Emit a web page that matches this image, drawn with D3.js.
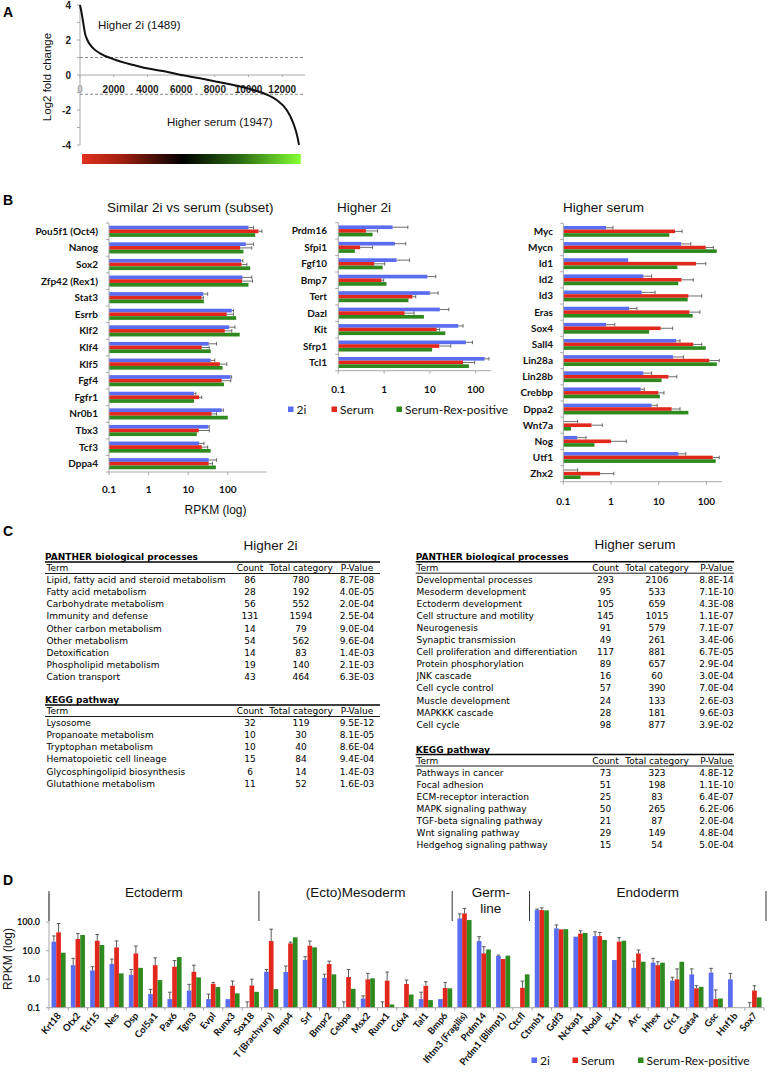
<!DOCTYPE html>
<html><head><meta charset="utf-8">
<script src="https://cdn.jsdelivr.net/npm/d3@7"></script>
<style>body{margin:0;background:#fff}svg{display:block}</style>
</head><body>
<svg id="c" width="768" height="1076"></svg>
<script>
// ---------------- DATA ----------------
// Panel A: sorted log2 fold change curve (rank, value)
const foldRank  = [0, 99, 198, 297, 435, 791, 1187, 1978, 3165, 3956, 5143, 6033, 7121, 8308, 9099, 10286, 11077, 11670, 12264, 12660, 12897, 12995];
const foldValue = [4.0, 3.52, 2.95, 2.38, 2.0, 1.52, 1.24, 0.91, 0.57, 0.38, 0.19, 0.0, -0.19, -0.42, -0.57, -0.86, -1.12, -1.43, -2.0, -2.76, -3.52, -4.0];
const foldThresholds = [1, -1.1];
const aYTicks = [4, 2, 0, -2, -4];
const aXTicks = [0, 2000, 4000, 6000, 8000, 10000, 12000];
const aLabels = ["Higher 2i (1489)", "Higher serum (1947)"];

// Panel B
const seriesNames = ["2i", "Serum", "Serum-Rex-positive"];
const simGenes = ["Pou5f1 (Oct4)","Nanog","Sox2","Zfp42 (Rex1)","Stat3","Esrrb","Klf2","Klf4","Klf5","Fgf4","Fgfr1","Nr0b1","Tbx3","Tcf3","Dppa4"];
const sim2i    = [333,286,215,235,24,126,108,33,37,117,14,70,32,19,33];
const simSerum = [598,205,222,230,21.8,94,84,22,63,70,19,39,18.5,22,33];
const simRex   = [492,248,368,333,24.9,163,200,37,74,80,14,100,16.5,37,50];
const sim2iErr    = [447,447,240,405,31,139,152,52,47,125,15.6,77,34,25,52];
const simSerumErr = [725,405,303,420,24,139,126,34,94,119,22,52,34,31,41];

const hi2iGenes = ["Prdm16","Sfpi1","Fgf10","Bmp7","Tert","Dazl","Kit","Sfrp1","Tcl1"];
const hi2i2i    = [1.53,1.72,1.87,8.8,10,16.5,41.6,61,157];
const hi2iSerum = [0.40,0.30,0.61,0.88,4.16,2.8,14,16,53];
const hi2iRex   = [0.56,0.23,0.93,1.13,3.4,7.4,21.7,11.2,71];
const hi2i2iErr    = [3.3,2.97,3.6,13.4,15.1,26,53,85,195];
const hi2iSerumErr = [0.72,0.56,1.03,0.98,4.9,4.5,16.3,28.5,95];

const hiSerGenes = ["Myc","Mycn","Id1","Id2","Id3","Eras","Sox4","Sall4","Lin28a","Lin28b","Crebbp","Dppa2","Wnt7a","Nog","Utf1","Zhx2"];
const hiSer2i    = [0.79,29.4,2.3,4.76,4.4,2.4,0.79,23,20,4.76,4.2,7.1,0.1,0.196,25.9,0.1];
const hiSerSerum = [22,97,60.7,30,41.9,44,11,53,115,16,9.8,18.7,0.39,1.0,136,0.59];
const hiSerRex   = [16.7,165,24.6,25.7,40.5,51.6,6.3,97,165,11.5,10.6,41.9,0.145,0.45,157,0.23];
const hiSer2iErr    = [1.1,47,2.3,7.1,8.4,3.5,1.2,28,33,7.1,5,9.3,0.2,0.3,37,0.2];
const hiSerSerumErr = [31,140,97,53,80,73,19.6,80,186,24,12.9,28,0.66,2.1,186,1.15];
const bTicks = [0.1, 1, 10, 100];

// Panel C tables: [term, count, total, p-value]
const tableHeader = ["Term", "Count", "Total category", "P-Value"];
const panther2i = [
 ["Lipid, fatty acid and steroid metabolism",86,780,"8.7E-08"],
 ["Fatty acid metabolism",28,192,"4.0E-05"],
 ["Carbohydrate metabolism",56,552,"2.0E-04"],
 ["Immunity and defense",131,1594,"2.5E-04"],
 ["Other carbon metabolism",14,79,"9.0E-04"],
 ["Other metabolism",54,562,"9.6E-04"],
 ["Detoxification",14,83,"1.4E-03"],
 ["Phospholipid metabolism",19,140,"2.1E-03"],
 ["Cation transport",43,464,"6.3E-03"]];
const kegg2i = [
 ["Lysosome",32,119,"9.5E-12"],
 ["Propanoate metabolism",10,30,"8.1E-05"],
 ["Tryptophan metabolism",10,40,"8.6E-04"],
 ["Hematopoietic cell lineage",15,84,"9.4E-04"],
 ["Glycosphingolipid biosynthesis",6,14,"1.4E-03"],
 ["Glutathione metabolism",11,52,"1.6E-03"]];
const pantherSerum = [
 ["Developmental processes",293,2106,"8.8E-14"],
 ["Mesoderm development",95,533,"7.1E-10"],
 ["Ectoderm development",105,659,"4.3E-08"],
 ["Cell structure and motility",145,1015,"1.1E-07"],
 ["Neurogenesis",91,579,"7.1E-07"],
 ["Synaptic transmission",49,261,"3.4E-06"],
 ["Cell proliferation and differentiation",117,881,"6.7E-05"],
 ["Protein phosphorylation",89,657,"2.9E-04"],
 ["JNK cascade",16,60,"3.0E-04"],
 ["Cell cycle control",57,390,"7.0E-04"],
 ["Muscle development",24,133,"2.6E-03"],
 ["MAPKKK cascade",28,181,"9.6E-03"],
 ["Cell cycle",98,877,"3.9E-02"]];
const keggSerum = [
 ["Pathways in cancer",73,323,"4.8E-12"],
 ["Focal adhesion",51,198,"1.1E-10"],
 ["ECM-receptor interaction",25,83,"6.4E-07"],
 ["MAPK signaling pathway",50,265,"6.2E-06"],
 ["TGF-beta signaling pathway",21,87,"2.0E-04"],
 ["Wnt signaling pathway",29,149,"4.8E-04"],
 ["Hedgehog signaling pathway",15,54,"5.0E-04"]];

// Panel D
const dGroups = ["Ectoderm","(Ecto)Mesoderm","Germ-|line","Endoderm"];
const dGroupSizes = [11,10,4,12];
const dGenes = ["Krt18","Otx2","Tcf15","Nes","Dsp","Col5a1","Pax6","Tgm3","Evpl","Runx3","Sox18",
 "T (Brachyury)","Bmp4","Srf","Bmpr2","Cebpa","Msx2","Runx1","Cdx4","Tal1","Bmp6",
 "Ifitm3 (Fragilis)","Prdm14","Prdm1 (Blimp1)","Ctcfl",
 "Ctnnb1","Gdf3","Nckap1","Nodal","Ext1","Arc","Hhex","Cfc1","Gata4","Gsc","Hnf1b","Sox7"];
const d2i    = [20.7,3.1,2.04,3.4,1.4,0.3,0.2,0.4,0.2,0.2,0.1, 1.83,1.79,4.7,1.1,0.1,0.21,0.1,0.1,0.2,0.2, 135,21.8,6.5,0.1, 267,60.8,31,32.6,4.7,2.5,3.8,0.89,1.48,1.7,0.99,0.1];
const dSerum = [44,25.7,22.4,13.1,8.05,3.1,2.75,1.83,0.69,0.59,0.6, 21.8,18,15,3.4,1.19,0.99,0.89,0.68,0.58,0.49, 204,8.05,5.1,0.5, 267,56,40,32.6,20.7,8.05,3.1,0.99,0.48,0.2,0.1,0.4];
const dRex   = [8.5,35.5,15.9,1.6,2.5,0.93,6,1.16,0.53,0.32,0.36, 0.45,29.4,13.1,1.48,0.46,1.07,0.13,0.29,0.185,0.48, 119,11.1,6.7,1.48, 260,57,42,23.7,22.4,4.1,3.8,4.1,0.54,0.21,0.1,0.23];
const d2iErr    = [33,5.4,2.75,5.1,2.2,0.44,0.35,0.66,0.3,0.2,0.16, 2.2,2.9,6.2,1.5,0.16,0.26,0.16,0.1,0.35,0.2, 195,31,7,0.1, 290,80,31,46,4.7,4.3,5.4,1.17,2.3,2.4,1.6,0.15];
const dSerumErr = [90,40,37,22,14.6,5.6,4.5,3.1,0.77,0.86,1.0, 57,20,21.8,4.3,2.2,1.6,1.78,0.93,0.82,0.77, 305,13.8,5.1,0.86, 320,56,50,44,28.6,10.6,4.1,2.3,0.59,0.42,0.1,0.59];
const dYTicks = [100, 10, 1, 0.1];

// ---------------- STYLE ----------------
const COL = ["#5a6cf0", "#e2281d", "#2e8a1e"];
const ERR = "#4a4a4a", AX = "#a8a8a8";
const ARIAL = "'Liberation Sans', Arial, sans-serif";
const LATO = "Lato, 'Open Sans', sans-serif";
const VERD = "'DejaVu Sans', Verdana, sans-serif";

const svg = d3.select("#c");
function txt(g, x, y, s, o) {
  o = o || {};
  return g.append("text").attr("x", x).attr("y", y).text(s)
    .attr("font-family", o.ff || ARIAL).attr("font-size", o.fs || 12)
    .attr("font-weight", o.fw || "normal").attr("fill", o.fill || "#111")
    .attr("text-anchor", o.anchor || "start");
}
function line(g, x1, y1, x2, y2, stroke, w) {
  return g.append("line").attr("x1", x1).attr("y1", y1).attr("x2", x2).attr("y2", y2)
    .attr("stroke", stroke).attr("stroke-width", w || 1);
}

// Panel letters
[["A",17],["B",205],["C",536],["D",885]].forEach(([l,y]) => txt(svg, 3, y, l, {fs: 14, fw: "bold", fill: "#000"}));

// ---------------- PANEL A ----------------
(function(){
  const g = svg.append("g");
  const x = d3.scaleLinear().domain([0, 13350]).range([80, 305]);
  const y = d3.scaleLinear().domain([-4, 4]).range([145, 5]);
  line(g, x(0), y(4), x(0), y(-4), AX, 1);
  d3.range(-4, 5, 1).forEach(v => line(g, x(0) - 3, y(v), x(0), y(v), AX, 1));
  line(g, x(0), y(0), x(13350), y(0), AX, 1);
  aXTicks.forEach(v => line(g, x(v), y(0), x(v), y(0) + 2, AX, 1));
  foldThresholds.forEach(t => line(g, x(0), y(t), x(13350), y(t), "#888", 1).attr("stroke-dasharray", "3,2"));
  aYTicks.forEach(v => txt(g, 71, y(v) + 3.5, String(v), {fs: 10, fw: "bold", anchor: "end", fill: "#222"}));
  aXTicks.forEach((v, i) => txt(g, x(v), 93, String(v), {fs: 10, fw: "bold", anchor: "middle", fill: i === 0 ? "#aaa" : "#222"}));
  txt(g, 0, 0, "Log2 fold change", {fs: 11.5, anchor: "middle"}).attr("transform", "translate(51,77) rotate(-90)");
  const pts = foldRank.map((r, i) => [x(r), y(foldValue[i])]);
  g.append("path").attr("d", d3.line().curve(d3.curveMonotoneX)(pts))
    .attr("fill", "none").attr("stroke", "#111").attr("stroke-width", 2);
  txt(g, 98, 29, aLabels[0], {fs: 11.5});
  txt(g, 167, 126, aLabels[1], {fs: 11.5});
  const grad = svg.append("defs").append("linearGradient").attr("id", "rg");
  [[0, "#e2301f"], [0.18, "#a0200f"], [0.46, "#000000"], [0.72, "#2a6a12"], [1, "#84ff34"]]
    .forEach(([o, c]) => grad.append("stop").attr("offset", o).attr("stop-color", c));
  g.append("rect").attr("x", x(120)).attr("y", 154).attr("width", x(13100) - x(120)).attr("height", 10).attr("fill", "url(#rg)");
})();

// ---------------- PANEL B ----------------
function hbar(cfg) {
  const g = svg.append("g");
  const x = d3.scaleLog().domain([0.1, 1000]).range([cfg.x0, cfg.x0 + 4 * cfg.decade]);
  const y = d3.scaleBand().domain(cfg.genes).range([cfg.top, cfg.bottom]).paddingInner(0.33).paddingOuter(0.165);
  const sub = d3.scaleBand().domain([0, 1, 2]).range([0, y.bandwidth()]);
  const series = [cfg.s2i, cfg.sSer, cfg.sRex];
  const errs = [cfg.e2i, cfg.eSer, null];
  series.forEach((vals, si) => {
    g.selectAll(null).data(cfg.genes).enter().append("rect")
      .attr("x", cfg.x0).attr("y", d => y(d) + sub(si))
      .attr("width", (d, i) => Math.max(0, x(vals[i]) - cfg.x0)).attr("height", sub.bandwidth())
      .attr("fill", COL[si]);
  });
  errs.forEach((ev, si) => {
    if (!ev) return;
    cfg.genes.forEach((gname, i) => {
      const cy = y(gname) + sub(si) + sub.bandwidth() / 2;
      const v = series[si][i], e = ev[i];
      if (e > v) {
        line(g, x(v), cy, x(e), cy, ERR, 0.8);
        line(g, x(e), cy - 1.8, x(e), cy + 1.8, ERR, 0.8);
      }
    });
  });
  // axes
  line(g, cfg.x0, cfg.top, cfg.x0, cfg.bottom, AX, 1);
  for (let k = 0; k <= cfg.genes.length; k++) {
    const yy = cfg.top + k * y.step();
    line(g, cfg.x0 - 3, yy, cfg.x0, yy, AX, 1);
  }
  line(g, cfg.x0, cfg.bottom, x(cfg.axisMax), cfg.bottom, AX, 1);
  bTicks.forEach(t => {
    line(g, x(t), cfg.bottom, x(t), cfg.bottom + 3, AX, 1);
    txt(g, x(t), cfg.bottom + cfg.tickOff, String(t), {ff: LATO, fs: 10, fw: "bold", anchor: "middle", fill: "#111"});
  });
  cfg.genes.forEach(gname => txt(g, cfg.labelX, y(gname) + y.bandwidth() / 2 + 3.5, gname, {ff: LATO, fs: 10, fw: "bold", anchor: "end", fill: "#111"}));
  txt(g, cfg.titleX, 212, cfg.title, {fs: 13.5});
}
hbar({genes: simGenes, s2i: sim2i, sSer: simSerum, sRex: simRex, e2i: sim2iErr, eSer: simSerumErr,
  x0: 109, decade: 39.6, top: 223, bottom: 472, axisMax: 950, labelX: 98, tickOff: 20.5,
  title: "Similar 2i vs serum (subset)", titleX: 107});
hbar({genes: hi2iGenes, s2i: hi2i2i, sSer: hi2iSerum, sRex: hi2iRex, e2i: hi2i2iErr, eSer: hi2iSerumErr,
  x0: 338.3, decade: 45.8, top: 222.7, bottom: 370.7, axisMax: 215, labelX: 327, tickOff: 22.3,
  title: "Higher 2i", titleX: 337});
hbar({genes: hiSerGenes, s2i: hiSer2i, sSer: hiSerSerum, sRex: hiSerRex, e2i: hiSer2iErr, eSer: hiSerSerumErr,
  x0: 563.3, decade: 47.7, top: 223.3, bottom: 481.7, axisMax: 210, labelX: 553, tickOff: 23.3,
  title: "Higher serum", titleX: 563});
txt(svg, 215.5, 514, "RPKM (log)", {fs: 12, anchor: "middle"});

function legend(x0s, yTop, fs) {
  seriesNames.forEach((s, i) => {
    svg.append("rect").attr("x", x0s[i]).attr("y", yTop).attr("width", 5.5).attr("height", 5.5).attr("fill", COL[i]);
    txt(svg, x0s[i] + 8.5, yTop + 7, s, {ff: LATO, fs: fs, fill: "#111"});
  });
}
legend([288, 331.5, 396.5], 406.5, 12);

// ---------------- PANEL C ----------------
function table(rows, title, x0, x1, tC, cols) {
  const g = svg.append("g");
  txt(g, x0, tC + 3.3, title, {ff: VERD, fs: 9, fw: "bold", fill: "#000"});
  line(g, x0, tC + 5, x1, tC + 5, "#000", 1.4);
  const hy = tC + 11;
  txt(g, cols[0], hy + 3.3, tableHeader[0], {ff: VERD, fs: 9, fill: "#000"});
  [1, 2, 3].forEach(k => txt(g, cols[k], hy + 3.3, tableHeader[k], {ff: VERD, fs: 9, anchor: "middle", fill: "#000"}));
  line(g, x0, tC + 16.5, x1, tC + 16.5, "#000", 0.9);
  rows.forEach((r, i) => {
    const cy = tC + 23 + i * 12.05 + 3.3;
    txt(g, cols[0], cy, r[0], {ff: VERD, fs: 9, fill: "#000"});
    [1, 2, 3].forEach(k => txt(g, cols[k], cy, String(r[k]), {ff: VERD, fs: 9, anchor: "middle", fill: "#000"}));
  });
}
txt(svg, 270.5, 550, "Higher 2i", {fs: 13.5, anchor: "middle"});
txt(svg, 635, 549, "Higher serum", {fs: 13.5, anchor: "middle"});
table(panther2i, "PANTHER biological processes", 45, 380, 557, [46.5, 250, 301, 357]);
table(kegg2i, "KEGG pathway", 45, 380, 700, [46.5, 250, 301, 357]);
table(pantherSerum, "PANTHER biological processes", 415.7, 734, 556.7, [416.5, 605.5, 657, 716.5]);
table(keggSerum, "KEGG pathway", 415.7, 734, 749.5, [416.5, 605.5, 657, 716.5]);

// ---------------- PANEL D ----------------
(function(){
  const g = svg.append("g");
  const y = d3.scaleLog().domain([0.1, 1000]).range([1007.7, 893.7]);
  const x = d3.scaleBand().domain(dGenes).range([49, 764]).paddingInner(0.27).paddingOuter(0.13);
  const sub = d3.scaleBand().domain([0, 1, 2]).range([0, x.bandwidth()]);
  const series = [d2i, dSerum, dRex];
  const errs = [d2iErr, dSerumErr, null];
  line(g, 49, y(0.1), 49, y(1000), AX, 1);
  dYTicks.forEach(t => {
    line(g, 46, y(t), 49, y(t), AX, 1);
    txt(g, 40, y(t) + 3.2, d3.format(".1f")(t), {ff: LATO, fs: 9, fw: "bold", anchor: "end", fill: "#111"});
  });
  series.forEach((vals, si) => {
    g.selectAll(null).data(dGenes).enter().append("rect")
      .attr("x", d => x(d) + sub(si)).attr("y", (d, i) => y(vals[i]))
      .attr("width", sub.bandwidth()).attr("height", (d, i) => Math.max(0, y(0.1) - y(vals[i])))
      .attr("fill", COL[si]);
  });
  errs.forEach((ev, si) => {
    if (!ev) return;
    dGenes.forEach((gname, i) => {
      const cx = x(gname) + sub(si) + sub.bandwidth() / 2;
      const v = series[si][i], e = ev[i];
      if (e > v) {
        line(g, cx, y(v), cx, y(e), ERR, 0.9);
        line(g, cx - 1.8, y(e), cx + 1.8, y(e), ERR, 0.9);
      }
    });
  });
  line(g, 49, y(0.1), 764, y(0.1), AX, 1);
  for (let k = 0; k <= dGenes.length; k++) {
    const xx = 49 + x.step() * (x.paddingOuter() - x.paddingInner() / 2) + k * x.step();
    line(g, xx, y(0.1), xx, y(0.1) + 3, AX, 1);
  }
  dGenes.forEach(gname => {
    const cx = x(gname) + x.bandwidth() / 2 + 3;
    txt(g, 0, 0, gname, {ff: LATO, fs: 9.5, fw: "bold", anchor: "end", fill: "#111"})
      .attr("transform", `translate(${cx},1016) rotate(-50)`);
  });
  // group separators and labels
  let start = 0;
  const seps = [];
  dGroupSizes.forEach(n => { seps.push(start); start += n; });
  seps.push(dGenes.length);
  const sepX = seps.map((k, i) => i === 0 ? 49 : (k === dGenes.length ? 766 : x(dGenes[k]) - x.step() * 0.27));
  sepX.forEach(sx => line(g, sx, 891, sx, 921, "#333", 1));
  dGroups.forEach((name, i) => {
    const cx = (sepX[i] + sepX[i + 1]) / 2;
    const parts = name.split("|");
    parts.forEach((p, j) => txt(g, cx, 896.5 + j * 16.5, p, {fs: 13.5, anchor: "middle"}));
  });
  txt(g, 0, 0, "RPKM (log)", {fs: 12, anchor: "middle"}).attr("transform", "translate(12,959) rotate(-90)");
})();
legend([531.5, 572.5, 638], 1057.5, 12);
</script>
</body></html>
